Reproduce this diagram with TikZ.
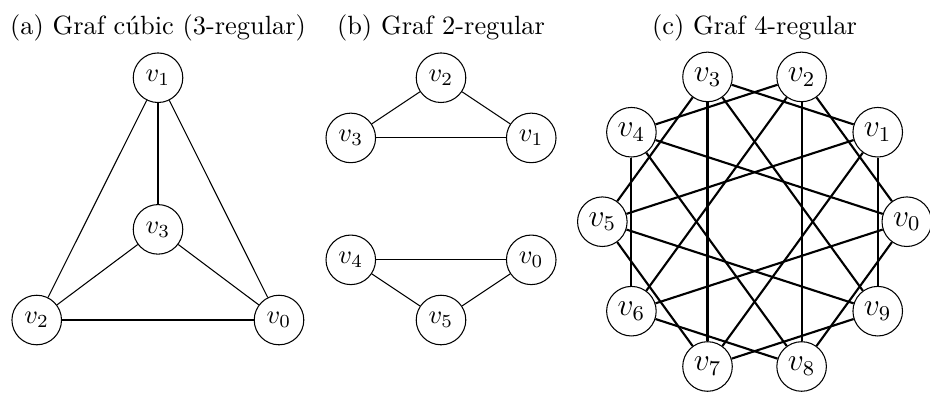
\documentclass[tikz,border=0pt]{standalone}
\usepackage{amsmath}
\usepackage{tikz}
\usetikzlibrary{backgrounds}

\begin{document}
\begin{tikzpicture}[
node/.style={circle, draw=black, fill=white, minimum size=6.6mm, inner sep=1pt},
bignode/.style={node, font=\large},
title/.style={anchor=base}
]
\useasboundingbox (0,0) rectangle (12.383,5.220);
%Titles
\node[title] (ta) at (2.104,4.754) {(a) Graf cúbic (3-regular)};
\node[title] (tb) at (5.872,4.754) {(b) Graf 2-regular};
\node[title] (tc) at (10.047,4.754) {(c) Graf 4-regular};
%Nodes (a)
\node[node]      (a1)  at (2.104,4.185)   {$v_1$};
\node[node]      (a3)  at (2.104,2.166)   {$v_3$};
\node[node]      (a2)  at (0.489,0.959)   {$v_2$};
\node[node]      (a0)  at (3.715,0.959)   {$v_0$};
%Nodes (b)
\node[node]      (b2)  at (5.872,4.185)   {$v_2$};
\node[node]      (b3)  [below left of =b2, node distance=1.6cm, xshift=-0.07cm, yshift=0.33cm]  {$v_3$};
\node[node]      (b1)  [below right of =b2, node distance=1.6cm, xshift=0.07cm, yshift=0.33cm] {$v_1$};
\node[node]      (b5)  at (5.872,0.959)   {$v_5$};
\node[node]      (b4)  [above left of =b5, node distance=1.6cm, xshift=-0.07cm, yshift=-0.33cm]  {$v_4$};
\node[node]      (b0)  [above right of =b5, node distance=1.6cm, xshift=0.07cm, yshift=-0.33cm] {$v_0$};
%Nodes (c)
\begin{scope}[shift={(10.047,2.268)}]
\node[bignode]   (c0)  at (0:2.027)   {$v_0$};
\node[bignode]   (c1)  at (36:2.027)  {$v_1$};
\node[bignode]   (c2)  at (72:2.027)  {$v_2$};
\node[bignode]   (c3)  at (108:2.027) {$v_3$};
\node[bignode]   (c4)  at (144:2.027) {$v_4$};
\node[bignode]   (c5)  at (180:2.027) {$v_5$};
\node[bignode]   (c6)  at (216:2.027) {$v_6$};
\node[bignode]   (c7)  at (252:2.027) {$v_7$};
\node[bignode]   (c8)  at (288:2.027) {$v_8$};
\node[bignode]   (c9)  at (324:2.027) {$v_9$};
\end{scope}
%Lines (a)
\draw (a1) -- (a3);
\draw (a1) -- (a2);
\draw (a1) -- (a0);
\draw (a3) -- (a2);
\draw (a3) -- (a0);
\draw (a2) -- (a0);
%Lines (b)
\draw (b2) -- (b3);
\draw (b2) -- (b1);
\draw (b3) -- (b1);
\draw (b4) -- (b0);
\draw (b4) -- (b5);
\draw (b5) -- (b0);
%Lines (c)
\begin{scope}[on background layer={thick}]
\draw (c0) -- (c2);
\draw (c0) -- (c4);
\draw (c0) -- (c6);
\draw (c0) -- (c8);
\draw (c1) -- (c3);
\draw (c1) -- (c5);
\draw (c1) -- (c7);
\draw (c1) -- (c9);
\draw (c2) -- (c4);
\draw (c2) -- (c6);
\draw (c2) -- (c8);
\draw (c3) -- (c5);
\draw (c3) -- (c7);
\draw (c3) -- (c9);
\draw (c4) -- (c6);
\draw (c4) -- (c8);
\draw (c5) -- (c7);
\draw (c5) -- (c9);
\draw (c6) -- (c8);
\draw (c7) -- (c9);
\end{scope}
\end{tikzpicture}
\end{document}
